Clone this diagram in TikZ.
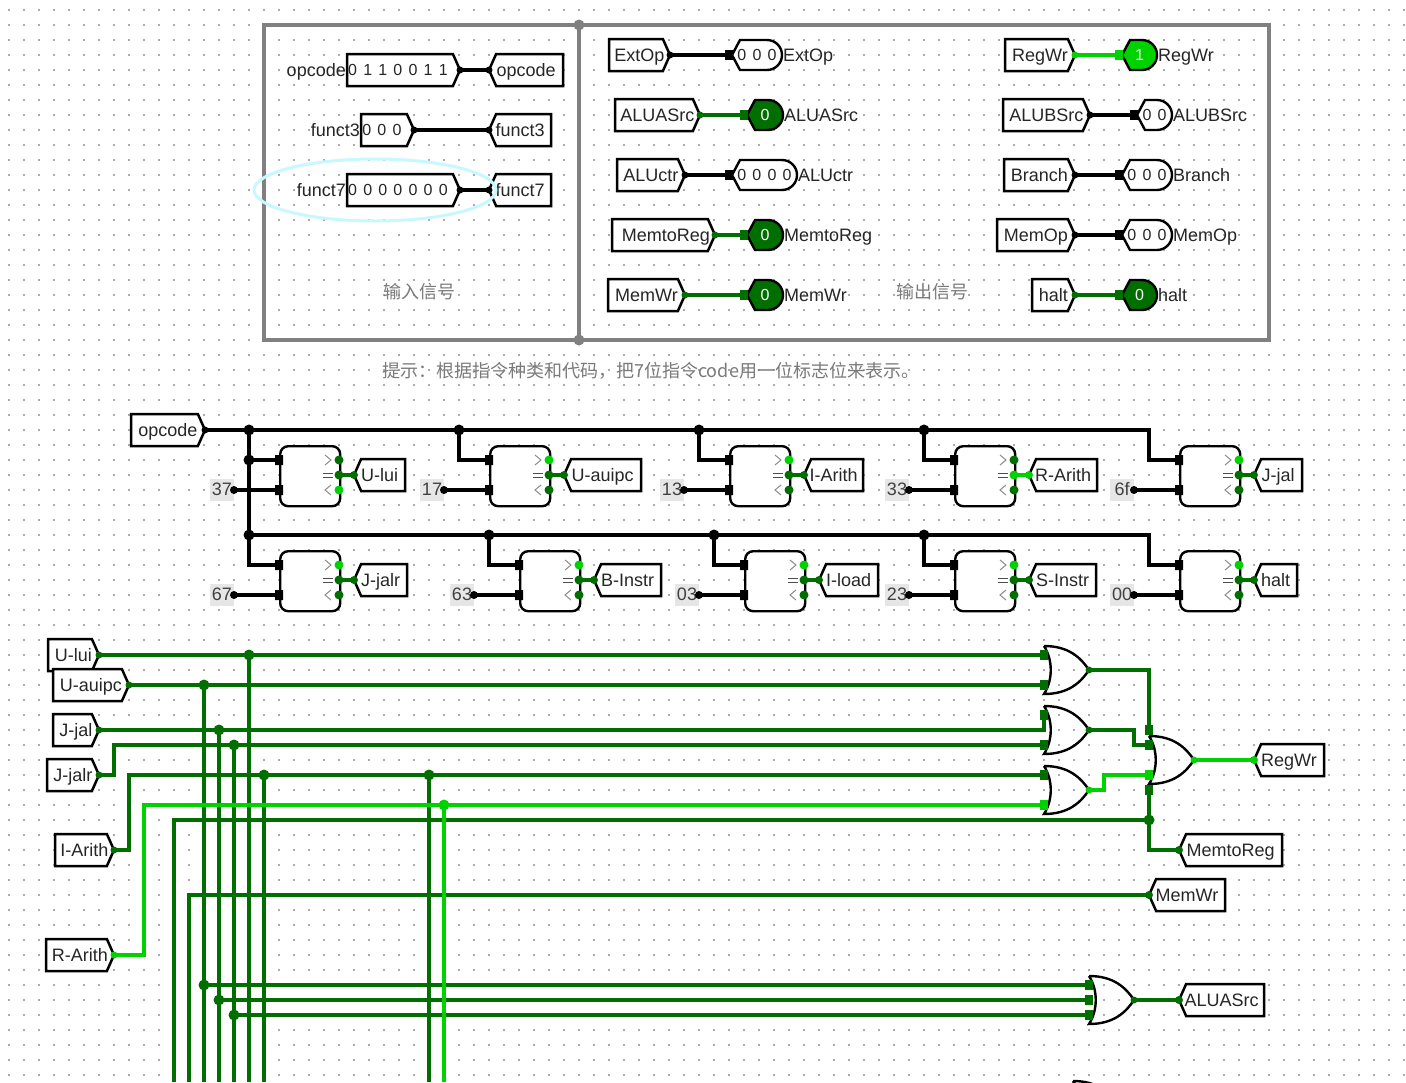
\documentclass[tikz,border=0pt]{standalone}
\usepackage{fontspec}
\setmainfont{Liberation Sans}
\newfontfamily\cjk{Noto Sans CJK SC}
\usetikzlibrary{shapes.symbols}

\definecolor{sigoff}{HTML}{006F00}
\definecolor{sigon}{HTML}{00D200}
\definecolor{griddot}{HTML}{ABABAB}
\definecolor{framegray}{HTML}{808080}
\definecolor{hintgray}{HTML}{7A7A7A}
\definecolor{constgray}{HTML}{E6E6E6}
\definecolor{ringcyan}{HTML}{C8F8FF}

\newcommand{\bitfont}{\fontsize{16}{18}\selectfont\spaceskip 6.2pt\relax}
% tunnel pointing right: name, left, tip, y, text
\newcommand{\tunr}[5]{\node[tunnel, signal to=east, anchor=east, minimum width={(#3-#2)*1pt}] (#1) at (#3,#4) {\makebox[0pt]{\hspace*{7pt}#5}};}
% tunnel pointing left: name, tip, right, y, text
\newcommand{\tunl}[5]{\node[tunnel, signal to=west, anchor=west, minimum width={(#3-#2)*1pt}] (#1) at (#2,#4) {\makebox[0pt]{#5\hspace*{7pt}}};}
% input pin: name, left, tip, y, bits, label
\newcommand{\inpin}[6]{
    \node[tunnel, signal to=east, anchor=east, minimum width={(#3-#2)*1pt}, font=\bitfont, text height=11pt, text depth=1pt] (#1) at (#3,#4) {\makebox[0pt]{#5\hspace*{4pt}}};
    \node[pinlab, anchor=east] (#1-lab) at (#2-1,#4) {#6};
}
% output pin: name, x, y, width, bits, fill, text colour, label
\newcommand{\outpin}[8]{
    \coordinate (#1-in) at (#2,#3);
    \draw[comp, fill=#6] (#2,#3) -- ++(8,-15) -- (#2+#4-15,#3-15)
        .. controls (#2+#4-6.7,#3-15) and (#2+#4,#3-8.3) .. (#2+#4,#3)
        .. controls (#2+#4,#3+8.3) and (#2+#4-6.7,#3+15) .. (#2+#4-15,#3+15)
        -- (#2+8,#3+15) -- cycle;
    \node[font=\bitfont, text=#7, text height=11pt, text depth=1pt, inner sep=0pt] (#1) at (#2+#4/2,#3) {#5};
    \node[pinlab, anchor=west] (#1-lab) at (#2+#4+1,#3) {#8};
}
% comparator: name, x, y, colours of > = <
\newcommand{\cmp}[6]{
    \node[comp, rounded corners=8pt, anchor=north west, minimum width=60pt, minimum height=60pt, fill=white] (#1) at (#2,#3-15) {};
    \coordinate (#1-a) at (#2,#3);
    \coordinate (#1-b) at (#2,#3+30);
    \coordinate (#1-gt) at (#2+60,#3);
    \coordinate (#1-eq) at (#2+60,#3+15);
    \coordinate (#1-lt) at (#2+60,#3+30);
    \draw[chev] (#2+46,#3-5) -- ++(6,5) -- ++(-6,5);
    \draw[chev] (#2+52,#3+25) -- ++(-6,5) -- ++(6,5);
    \draw[thick, black!70] (#2+44,#3+13) -- ++(10,0) (#2+44,#3+17) -- ++(10,0);
    \fill[black] (#1-a) ++(-4,-5) rectangle ++(8,10) (#1-b) ++(-4,-5) rectangle ++(8,10);
    \fill[#4] (#1-gt) circle (4.5);
    \fill[#5] (#1-eq) circle (4.5);
    \fill[#6] (#1-lt) circle (4.5);
}
% or gate: name, back x, middle y
\newcommand{\orgate}[3]{
    \draw[comp] (#2,#3-24) .. controls (#2+25,#3-24) and (#2+37,#3-12) .. (#2+45,#3)
        .. controls (#2+37,#3+12) and (#2+25,#3+24) .. (#2,#3+24)
        .. controls (#2+9,#3+10) and (#2+9,#3-10) .. (#2,#3-24);
    \coordinate (#1-out) at (#2+45,#3);
}
\newcommand{\sqpin}[2]{\fill[#2] (#1) ++(-4,-5) rectangle ++(8,10);}

\begin{document}
\begin{tikzpicture}[
        x=1pt, y=-1pt,
        font=\fontsize{18}{20}\selectfont,
        tunnel/.style={signal, signal from=nowhere, signal pointer angle=132, draw, line width=2.5pt, fill=white,
            minimum height=32pt, inner sep=0pt, outer sep=0pt, text=black!85, text height=14pt, text depth=2pt},
        pinlab/.style={inner sep=0pt, text=black!85, text height=14pt, text depth=2pt},
        comp/.style={draw, line width=2.4pt},
        chev/.style={draw=black!45, line width=1pt},
        frame/.style={draw=framegray, line width=4pt},
        bus/.style={line width=4pt, black},
        wire/.style={line width=4pt, sigoff},
        hot/.style={line width=4pt, sigon},
        constbox/.style={fill=constgray, minimum width=24pt, minimum height=22pt, inner sep=0pt, outer sep=0pt, text=black!75, text height=12pt, text depth=2pt},
        hint/.style={text=hintgray}
    ]
    \clip (0,0) rectangle (1406,1082);
    \fill[white] (0,0) rectangle (1406,1082);

    % Grid
    \foreach \i in {0,...,93} {
        \foreach \j in {0,...,71} {
            \fill[griddot] (15*\i+8.3,15*\j+9.3) rectangle ++(1.4,1.4);
        }
    }

    % Panels
    \coordinate (divtop) at (579,25);
    \coordinate (divbot) at (579,340);
    \draw[frame] (264,25) rectangle (1269,340);
    \draw[frame] (divtop) -- (divbot);
    \fill[framegray] (divtop) circle (5.5) (divbot) circle (5.5);

    % --- Input signals ---
    \inpin{inOp}{347}{460}{70}{0 1 1 0 0 1 1}{opcode}
    \tunl{tOp}{489}{563}{70}{opcode}
    \inpin{inF3}{361}{414}{130}{0 0 0}{funct3}
    \tunl{tF3}{489}{551}{130}{funct3}
    \inpin{inF7}{347}{460}{190}{0 0 0 0 0 0 0}{funct7}
    \tunl{tF7}{489}{551}{190}{funct7}
    \foreach \a/\b in {inOp/tOp, inF3/tF3, inF7/tF7} {
        \draw[bus] (\a.east) -- (\b.west);
        \fill[black] (\a.east) circle (3.5) (\b.west) circle (3.5);
    }
    \draw[ringcyan, line width=3pt] (375,190) ellipse (121 and 31);
    \node[hint] (insig) at (419,292) {\cjk 输入信号};

    % --- Output signals ---
    \tunr{tExt}{609}{670}{55}{ExtOp}
    \tunr{tAsrc}{615}{700}{115}{ALUASrc}
    \tunr{tCtr}{617}{685}{175}{ALUctr}
    \tunr{tM2R}{612}{715}{235}{\hspace*{5pt}MemtoReg}
    \tunr{tMw}{608}{685}{295}{MemWr}
    \tunr{tReg}{1005}{1075}{55}{RegWr}
    \tunr{tBsrc}{1003}{1090}{115}{ALUBSrc}
    \tunr{tBr}{1004}{1075}{175}{Branch}
    \tunr{tMop}{997}{1075}{235}{MemOp}
    \tunr{tHalt}{1032}{1075}{295}{halt}

    \outpin{oExt}{732}{55}{50}{0 0 0}{white}{black!85}{ExtOp}
    \outpin{oAsrc}{747}{115}{36}{0}{sigoff}{white}{ALUASrc}
    \outpin{oCtr}{732}{175}{65}{0 0 0 0}{white}{black!85}{ALUctr}
    \outpin{oM2R}{747}{235}{36}{0}{sigoff}{white}{MemtoReg}
    \outpin{oMw}{747}{295}{36}{0}{sigoff}{white}{MemWr}
    \outpin{oReg}{1122}{55}{35}{1}{sigon}{white}{RegWr}
    \outpin{oBsrc}{1137}{115}{35}{0 0}{white}{black!85}{ALUBSrc}
    \outpin{oBr}{1122}{175}{50}{0 0 0}{white}{black!85}{Branch}
    \outpin{oMop}{1122}{235}{50}{0 0 0}{white}{black!85}{MemOp}
    \outpin{oHalt}{1122}{295}{35}{0}{sigoff}{white}{halt}

    \foreach \a/\b/\c in {tExt/oExt/black, tCtr/oCtr/black, tBsrc/oBsrc/black, tBr/oBr/black, tMop/oMop/black,
            tAsrc/oAsrc/sigoff, tM2R/oM2R/sigoff, tMw/oMw/sigoff, tHalt/oHalt/sigoff, tReg/oReg/sigon} {
        \draw[line width=3.5pt, \c] (\a.east) -- (\b-in);
        \fill[\c] (\a.east) circle (3.5);
        \fill[\c] (\b-in) ++(-7,-5) rectangle ++(8,10);
    }
    \node[hint] (outsig) at (932,292) {\cjk 输出信号};

    % Hint line
    \node[hint, anchor=west, inner sep=0pt] (tip) at (382,371) {\cjk 提示：根据指令种类和代码，把7位指令code用一位标志位来表示。};

    % --- Comparators ---
    \tunr{opc}{131}{205}{430}{opcode}
    \cmp{cLui}{279}{460}{sigoff}{sigoff}{sigon}
    \cmp{cAui}{489}{460}{sigon}{sigoff}{sigoff}
    \cmp{cArith}{729}{460}{sigon}{sigoff}{sigoff}
    \cmp{cRarith}{954}{460}{sigoff}{sigon}{sigoff}
    \cmp{cJal}{1179}{460}{sigon}{sigoff}{sigoff}
    \cmp{cJalr}{279}{565}{sigon}{sigoff}{sigoff}
    \cmp{cB}{519}{565}{sigon}{sigoff}{sigoff}
    \cmp{cLoad}{744}{565}{sigon}{sigoff}{sigoff}
    \cmp{cS}{954}{565}{sigon}{sigoff}{sigoff}
    \cmp{cHalt}{1179}{565}{sigon}{sigoff}{sigoff}

    \tunl{lLui}{354}{405}{475}{U-lui}
    \tunl{lAui}{564}{641}{475}{U-auipc}
    \tunl{lArith}{804}{863}{475}{I-Arith}
    \tunl{lRarith}{1029}{1097}{475}{R-Arith}
    \tunl{lJal}{1254}{1302}{475}{J-jal}
    \tunl{lJalr}{354}{407}{580}{J-jalr}
    \tunl{lB}{594}{661}{580}{B-Instr}
    \tunl{lLoad}{819}{878}{580}{I-load}
    \tunl{lS}{1029}{1096}{580}{S-Instr}
    \tunl{lHalt}{1254}{1297}{580}{halt}

    \foreach \a/\b/\c in {cLui/lLui/sigoff, cAui/lAui/sigoff, cArith/lArith/sigoff, cRarith/lRarith/sigon, cJal/lJal/sigoff,
            cJalr/lJalr/sigoff, cB/lB/sigoff, cLoad/lLoad/sigoff, cS/lS/sigoff, cHalt/lHalt/sigoff} {
        \draw[line width=4pt, \c] (\a-eq) -- (\b.west);
        \fill[\c] (\b.west) circle (4);
    }

    % Constants
    \foreach \t/\x/\c in {37/234/cLui, 17/444/cAui, 13/684/cArith, 33/909/cRarith, 6f/1134/cJal,
            67/234/cJalr, 63/474/cB, 03/699/cLoad, 23/909/cS, 00/1134/cHalt} {
        \node[constbox, anchor=east] (k\t) at (\x,0 |- \c-b) {\t};
        \draw[bus] (k\t.east) -- (\c-b);
        \fill[black] (k\t.east) circle (4);
    }

    % Buses
    \foreach \n/\x/\y in {ja/249/430, jb/459/430, jc/699/430, jd/924/430, je/1149/430,
            jf/249/460, jg/249/535, jh/489/535, ji/714/535, jj/924/535, jk/1149/535} {
        \coordinate (\n) at (\x,\y);
    }
    \draw[bus] (opc.east) -- (je) |- (cJal-a);
    \draw[bus] (ja) -- (jg) |- (cJalr-a);
    \draw[bus] (jf) -- (cLui-a);
    \draw[bus] (jb) |- (cAui-a);
    \draw[bus] (jc) |- (cArith-a);
    \draw[bus] (jd) |- (cRarith-a);
    \draw[bus] (jg) -- (jk) |- (cHalt-a);
    \draw[bus] (jh) |- (cB-a);
    \draw[bus] (ji) |- (cLoad-a);
    \draw[bus] (jj) |- (cS-a);
    \fill[black] (opc.east) circle (3.5);
    \foreach \n in {ja, jb, jc, jd, jf, jg, jh, ji, jj} {
        \fill[black] (\n) circle (5.5);
    }

    % --- Decoder ---
    \tunr{sLui}{48}{99}{655}{U-lui}
    \tunr{sAui}{53}{129}{685}{U-auipc}
    \tunr{sJal}{53}{99}{730}{J-jal}
    \tunr{sJalr}{47}{99}{775}{J-jalr}
    \tunr{sArith}{55}{114}{850}{I-Arith}
    \tunr{sRarith}{46}{114}{955}{R-Arith}
    \tunl{dReg}{1254}{1324}{760}{RegWr}
    \tunl{dM2R}{1179}{1282}{850}{MemtoReg}
    \tunl{dMw}{1149}{1225}{895}{MemWr}
    \tunl{dAsrc}{1179}{1264}{1000}{ALUASrc}

    \orgate{g1}{1044}{670}
    \orgate{g2}{1044}{730}
    \orgate{g3}{1044}{790}
    \orgate{g4}{1149}{760}
    \orgate{g5}{1089}{1000}
    \orgate{g6}{1073}{1105}

    \foreach \n/\x/\y in {g1a/1044/655, g1b/1044/685, g2a/1044/715, g2b/1044/745, g3a/1044/775, g3b/1044/805,
            g4a/1149/730, g4b/1149/745, g4c/1149/775, g4d/1149/790,
            g5a/1089/985, g5b/1089/1000, g5c/1089/1015,
            n1/249/655, n2/204/685, n3/219/730, n4/234/745, n5/264/775, n6/429/775, n7/444/805,
            n8/1149/820, n9/204/985, n10/219/1000, n11/234/1015,
            s1/114/775, s2/114/745, s3/129/850, s4/129/775, s5/144/955, s6/144/805,
            s7/174/820, s8/189/895, s9/1044/730, s10/1134/745, s11/1104/775, s12/1149/670,
            e1/174/1082, e2/189/1082, e3/204/1082, e4/219/1082, e5/234/1082, e6/249/1082,
            e7/264/1082, e8/429/1082, e9/444/1082} {
        \coordinate (\n) at (\x,\y);
    }

    \draw[wire] (sLui.east) -- (g1a);
    \draw[wire] (sAui.east) -- (g1b);
    \draw[wire] (sJal.east) -- (s9) -- (g2a);
    \draw[wire] (sJalr.east) -- (s1) -- (s2) -- (g2b);
    \draw[wire] (sArith.east) -- (s3) -- (s4) -- (g3a);
    \draw[wire] (e1) -- (s7) -- (n8);
    \draw[wire] (e2) -- (s8) -- (dMw.west);
    \draw[wire] (n1) -- (e6);
    \draw[wire] (n2) -- (e3);
    \draw[wire] (n3) -- (e4);
    \draw[wire] (n4) -- (e5);
    \draw[wire] (n5) -- (e7);
    \draw[wire] (n6) -- (e8);
    \draw[wire] (n9) -- (g5a);
    \draw[wire] (n10) -- (g5b);
    \draw[wire] (n11) -- (g5c);
    \draw[wire] (g1-out) -- (s12) -- (g4a);
    \draw[wire] (g2-out) -| (s10) -- (g4b);
    \draw[wire] (g4d) |- (dM2R.west);
    \draw[wire] (g5-out) -- (dAsrc.west);
    \draw[hot] (sRarith.east) -- (s5) -- (s6) -- (g3b);
    \draw[hot] (n7) -- (e9);
    \draw[hot] (g3-out) -| (s11) -- (g4c);
    \draw[hot] (g4-out) -- (dReg.west);

    \foreach \n in {n1, n2, n3, n4, n5, n6, n8, n9, n10, n11} {
        \fill[sigoff] (\n) circle (5.5);
    }
    \fill[sigon] (n7) circle (5.5);
    \foreach \n in {g1a, g1b, g2a, g2b, g3a, g4a, g4b, g4d, g5a, g5b, g5c} {
        \sqpin{\n}{sigoff}
    }
    \sqpin{g3b}{sigon}
    \sqpin{g4c}{sigon}
    \foreach \n in {sLui, sAui, sJal, sJalr, sArith} {
        \fill[sigoff] (\n.east) circle (3.5);
    }
    \fill[sigon] (sRarith.east) circle (3.5);
    \foreach \n in {dM2R, dMw, dAsrc} {
        \fill[sigoff] (\n.west) circle (4);
    }
    \fill[sigon] (dReg.west) circle (4);
    \foreach \n in {g1, g2, g5} {
        \fill[sigoff] (\n-out) circle (3.5);
    }
    \foreach \n in {g3, g4} {
        \fill[sigon] (\n-out) circle (3.5);
    }
\end{tikzpicture}
\end{document}
